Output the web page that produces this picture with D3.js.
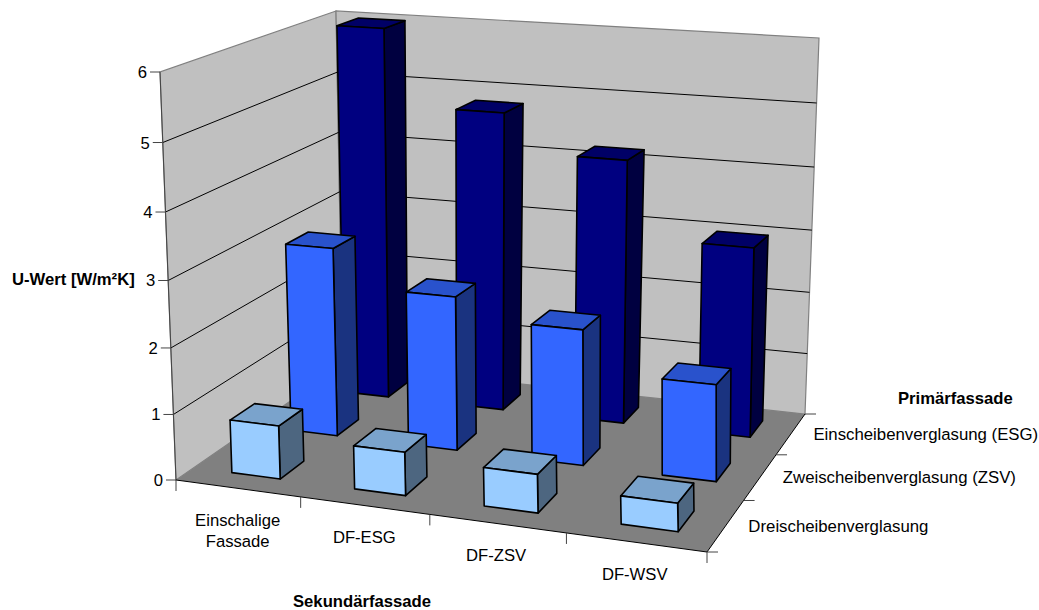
<!DOCTYPE html>
<html>
<head>
<meta charset="utf-8">
<script src="https://cdn.jsdelivr.net/npm/d3@7"></script>
<style>
html,body{margin:0;padding:0;background:#fff}
svg{display:block}
text{font-family:"Liberation Sans",Arial,sans-serif;fill:#000}
</style>
</head>
<body>
<svg id="chart" width="1039" height="610"></svg>
<script>
// Categories along the front edge, glazing types front to back
const facades = ["Einschalige Fassade", "DF-ESG", "DF-ZSV", "DF-WSV"];
const glazings = ["Dreischeibenverglasung", "Zweischeibenverglasung (ZSV)", "Einscheibenverglasung (ESG)"];
const valuesDrei = [0.81, 0.65, 0.57, 0.41];
const valuesZwei = [2.97, 2.40, 2.09, 1.47];
const valuesEin = [6.00, 4.80, 4.20, 3.00];
const yTicks = [0, 1, 2, 3, 4, 5, 6];
const seriesFill = ["#99CCFF", "#3366FF", "#000080"];

const svg = d3.select("#chart");

// Maps the unit square onto an arbitrary quadrilateral (perspective transform)
function quadMap(p0, p1, p2, p3) {
  const dx1 = p1[0] - p2[0], dx2 = p3[0] - p2[0], sx = p0[0] - p1[0] + p2[0] - p3[0];
  const dy1 = p1[1] - p2[1], dy2 = p3[1] - p2[1], sy = p0[1] - p1[1] + p2[1] - p3[1];
  const den = dx1 * dy2 - dx2 * dy1;
  const g = (sx * dy2 - dx2 * sy) / den, h = (dx1 * sy - sx * dy1) / den;
  const a = p1[0] - p0[0] + g * p1[0], b = p3[0] - p0[0] + h * p3[0], c = p0[0];
  const d = p1[1] - p0[1] + g * p1[1], e = p3[1] - p0[1] + h * p3[1], f = p0[1];
  return (u, v) => {
    const w = g * u + h * v + 1;
    return [(a * u + b * v + c) / w, (d * u + e * v + f) / w];
  };
}

// Plot box: floor plane and ceiling plane of the 3D scene
const floor = quadMap([176, 480], [707, 552], [805, 414], [342.6, 365]);
const ceil = quadMap([160, 72], [695.5, 107.4], [819, 38], [336, 11]);
const heightBias = 1.045;

const uScale = d3.scaleBand().domain(facades).range([0.005, 1.007]).paddingInner(0.6).paddingOuter(0.3);
const vScale = d3.scaleBand().domain(glazings).range([0, 1.003]).paddingInner(0.6).paddingOuter(0.275);
const tScale = d3.scaleLinear().domain([0, 6]).range([0, 1]);

function project(u, v, value) {
  const t = tScale(value);
  const s = t / (t + heightBias * (1 - t));
  const b = floor(u, v), c = ceil(u, v);
  return [b[0] + (c[0] - b[0]) * s, b[1] + (c[1] - b[1]) * s];
}

const path = pts => "M" + pts.map(p => p[0].toFixed(2) + "," + p[1].toFixed(2)).join("L") + "Z";
const shade = (col, k) => {
  const c = d3.rgb(col);
  return d3.rgb(c.r * k, c.g * k, c.b * k).formatHex();
};

// Walls and floor
const walls = svg.append("g");
walls.append("path")
  .attr("d", path([project(0, 0, 0), project(0, 0, 6), project(0, 1, 6), project(0, 1, 0)]))
  .attr("fill", "#C0C0C0").attr("stroke", "#808080").attr("stroke-width", 1.2);
walls.append("path")
  .attr("d", path([project(0, 1, 0), project(0, 1, 6), project(1, 1, 6), project(1, 1, 0)]))
  .attr("fill", "#C0C0C0").attr("stroke", "#808080").attr("stroke-width", 1.2);
walls.append("path")
  .attr("d", path([project(0, 0, 0), project(1, 0, 0), project(1, 1, 0), project(0, 1, 0)]))
  .attr("fill", "#808080");

// Gridlines running over the left and back walls
const grid = svg.append("g").attr("fill", "none").attr("stroke", "#000").attr("stroke-width", 1);
yTicks.filter(d => d > 0 && d < 6).forEach(d => {
  grid.append("path").attr("d", "M" + [project(0, 0, d), project(0, 1, d), project(1, 1, d)].map(p => p.join(",")).join("L"));
});

// Axis lines and tick marks
const axes = svg.append("g").attr("fill", "none").attr("stroke", "#000").attr("stroke-width", 1);
const seg = (a, b, col) => axes.append("line")
  .attr("x1", a[0]).attr("y1", a[1]).attr("x2", b[0]).attr("y2", b[1]).attr("stroke", col || "#000");
seg(project(0, 0, 0), project(0, 0, 6), "#444");
seg(project(0, 0, 0), project(1, 0, 0));
seg(project(1, 0, 0), project(1, 1, 0));
yTicks.forEach(d => {
  const p = project(0, 0, d);
  seg([p[0] - 10, p[1]], p, "#444");
});
// Category ticks sit on the band boundaries, the outer two on the box corners
const uBoundaries = [0, ...facades.slice(1).map(f => uScale(f) - uScale.step() * 0.3), 1];
uBoundaries.forEach(u => {
  const p = project(u, 0, 0);
  seg(p, [p[0], p[1] + 11], "#444");
});
d3.range(0, glazings.length + 1).forEach(i => {
  const p = project(1, i / glazings.length, 0);
  seg(p, [p[0] + 11, p[1]], "#444");
});

// Bars, painted from the far row forward and left to right
const rows = [
  { name: glazings[0], values: valuesDrei, fill: seriesFill[0] },
  { name: glazings[1], values: valuesZwei, fill: seriesFill[1] },
  { name: glazings[2], values: valuesEin, fill: seriesFill[2] }
];
const bars = svg.append("g").attr("stroke", "#000").attr("stroke-width", 1.6).attr("stroke-linejoin", "round");
rows.slice().reverse().forEach(row => {
  row.values.forEach((val, i) => {
    const u0 = uScale(facades[i]), u1 = u0 + uScale.bandwidth();
    const v0 = vScale(row.name), v1 = v0 + vScale.bandwidth();
    const g = bars.append("g");
    g.append("path").attr("fill", shade(row.fill, 0.5))
      .attr("d", path([project(u1, v0, 0), project(u1, v1, 0), project(u1, v1, val), project(u1, v0, val)]));
    g.append("path").attr("fill", shade(row.fill, 0.8))
      .attr("d", path([project(u0, v0, val), project(u1, v0, val), project(u1, v1, val), project(u0, v1, val)]));
    g.append("path").attr("fill", row.fill)
      .attr("d", path([project(u0, v0, 0), project(u1, v0, 0), project(u1, v0, val), project(u0, v0, val)]));
  });
});

// Value tick labels
const labels = svg.append("g").attr("font-size", 16.67);
yTicks.forEach(d => {
  const p = project(0, 0, d);
  labels.append("text").attr("x", p[0] - 13).attr("y", p[1] + 6).attr("text-anchor", "end").text(d);
});

// Facade labels below the front edge, nudged off the band centres
const facadeLines = [["Einschalige", "Fassade"], ["DF-ESG"], ["DF-ZSV"], ["DF-WSV"]];
const facadeNudge = [-1, 0, -1, -3];
facades.forEach((f, i) => {
  const p = project(uScale(f) + uScale.bandwidth() / 2, 0, 0);
  facadeLines[i].forEach((line, k) => {
    labels.append("text").attr("text-anchor", "middle")
      .attr("x", p[0] + facadeNudge[i]).attr("y", p[1] + 37 + k * 21).text(line);
  });
});

// Glazing labels beside the right edge
glazings.forEach(g => {
  const p = project(1, (glazings.indexOf(g) + 0.5) / glazings.length, 0);
  labels.append("text").attr("font-size", 16.8).attr("x", p[0] + 22.5).attr("y", p[1] + 6.5).text(g);
});

// Axis titles
const titles = svg.append("g").attr("font-size", 16.67).attr("font-weight", "bold");
titles.append("text").attr("x", 12).attr("y", 285).text("U-Wert [W/m²K]");
titles.append("text").attr("x", 898).attr("y", 404).text("Primärfassade");
titles.append("text").attr("x", 293).attr("y", 607).text("Sekundärfassade");
</script>
</body>
</html>
